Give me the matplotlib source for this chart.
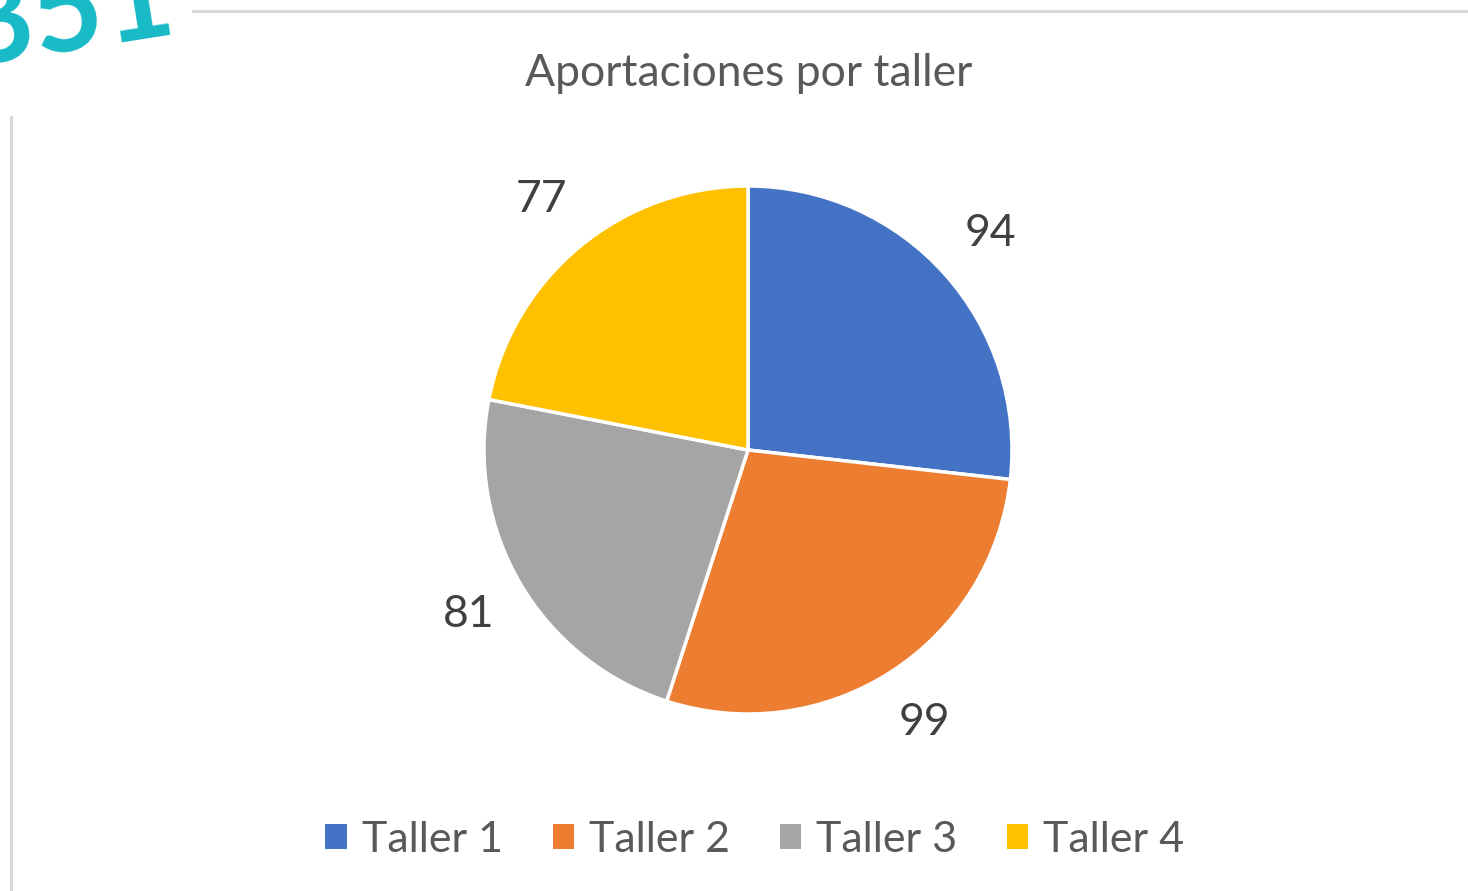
import matplotlib
matplotlib.use("Agg")
import matplotlib.pyplot as plt
from matplotlib.patches import Patch
from matplotlib.lines import Line2D

categories = ["Taller 1", "Taller 2", "Taller 3", "Taller 4"]
values = [94, 99, 81, 77]
colors = ["#4472C4", "#ED7D31", "#A5A5A5", "#FFC000"]
title = "Aportaciones por taller"
badge = "351"

plt.rcParams['font.family'] = ['Lato', 'DejaVu Sans']
W, H = 1468, 891
fig = plt.figure(figsize=(W / 100, H / 100), dpi=100)
fig.patch.set_facecolor("white")

# decorative lines
fig.add_artist(Line2D([193 / W, 1.0], [1 - 11 / H, 1 - 11 / H], color="#D9D9D9", lw=2.2))
fig.add_artist(Line2D([11 / W, 11 / W], [0, 1 - 117 / H], color="#D9D9D9", lw=2.2))

# decorative badge (partly off the canvas, as in the reference)
fig.text(-45 / W, 1 - 66 / H, badge, fontsize=88, fontweight="bold", color="#16BAC6",
         rotation=9, ha="left", va="baseline")

# pie axes
cx, cy, r = 748, 450, 264
ax = fig.add_axes([(cx - r) / W, 1 - (cy + r) / H, 2 * r / W, 2 * r / H])
wedges, _, autotexts = ax.pie(values, colors=colors, startangle=90, counterclock=False,
                              radius=1.0, autopct=lambda p: f"{p * sum(values) / 100:.0f}",
                              pctdistance=1.23,
                              wedgeprops=dict(edgecolor="white", linewidth=2.5))
ax.set_xlim(-1, 1)
ax.set_ylim(-1, 1)
ax.set_aspect("equal")
ax.axis("off")
for t in autotexts:
    t.set_fontsize(32)
    t.set_color("#404040")
    t.set_clip_on(False)

fig.text(749 / W, 1 - 73 / H, title, fontsize=32, color="#595959", ha="center", va="center")

handles = [Patch(facecolor=c, edgecolor="none") for c in colors]
fig.legend(handles, categories, loc="center", bbox_to_anchor=(755 / W, 1 - 840 / H),
           ncol=4, frameon=False, fontsize=31, labelcolor="#595959",
           handlelength=0.5, handleheight=0.5, handletextpad=0.35, columnspacing=1.15)

fig.savefig("out.png", dpi=100)
